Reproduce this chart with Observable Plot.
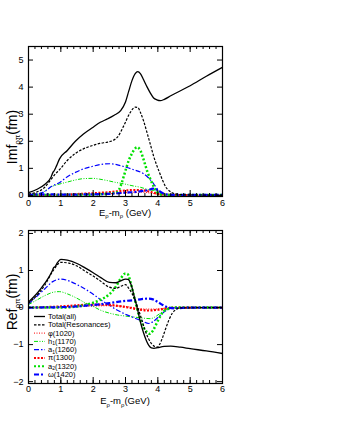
<!DOCTYPE html>
<html>
<head>
<meta charset="utf-8">
<script src="https://cdn.jsdelivr.net/npm/d3@7"></script>
<script src="https://cdn.jsdelivr.net/npm/@observablehq/plot@0.6"></script>
<style>
  html, body { margin: 0; padding: 0; background: #fff; }
  #wrap { position: relative; width: 340px; height: 440px; overflow: hidden; }
  #wrap svg { position: absolute; left: 0; }
</style>
</head>
<body>
<div id="wrap"></div>
<script>
// ---------- Data ----------
const seriesNames = ["Total(all)", "Total(Resonances)", "φ(1020)", "h1(1170)", "a1(1260)", "π(1300)", "a2(1320)", "ω(1420)"];

const xTicks = [0, 1, 2, 3, 4, 5, 6];
const imTicks = [0, 1, 2, 3, 4, 5];
const reTicks = [-2, -1, 0, 1, 2];

// Im f (top panel)
const imTotal = [[0,0.1],[0.25,0.22],[0.5,0.4],[0.7,0.68],[0.76,0.86],[0.8,0.92],[0.87,1.1],[0.96,1.35],[1.2,1.66],[1.45,2.0],[1.7,2.27],[2,2.52],[2.22,2.7],[2.45,2.83],[2.65,2.96],[2.85,3.13],[3.0,3.45],[3.1,3.85],[3.2,4.24],[3.3,4.5],[3.38,4.57],[3.46,4.5],[3.56,4.27],[3.67,4.0],[3.77,3.78],[3.87,3.6],[3.97,3.53],[4.08,3.5],[4.2,3.55],[4.4,3.68],[5,4.05],[5.5,4.4],[6,4.73]];
const imRes = [[0,0.05],[0.25,0.12],[0.5,0.3],[0.67,0.55],[0.8,0.75],[0.98,0.98],[1.2,1.29],[1.45,1.55],[1.7,1.72],[2,1.85],[2.2,1.92],[2.45,1.97],[2.6,2.02],[2.75,2.15],[2.95,2.58],[3.15,3.07],[3.3,3.26],[3.38,3.25],[3.46,3.07],[3.56,2.75],[3.67,2.3],[3.77,1.88],[3.87,1.45],[3.97,1.1],[4.05,0.85],[4.15,0.55],[4.24,0.32],[4.35,0.17],[4.5,0.07],[4.7,0.03],[5,0.02],[6,0.01]];
const imPhi = [[0,0.01],[1,0.01],[2,0.03],[2.5,0.06],[3,0.1],[3.5,0.12],[3.8,0.08],[4.1,0.03],[4.4,0.01],[6,0]];
const imH1 = [[0,0.02],[0.3,0.06],[0.5,0.15],[0.67,0.3],[0.9,0.4],[1.19,0.49],[1.45,0.57],[1.7,0.62],[2,0.63],[2.2,0.6],[2.43,0.55],[2.7,0.48],[2.94,0.43],[3.2,0.36],[3.46,0.3],[3.7,0.22],[3.87,0.18],[4.05,0.1],[4.18,0.06],[4.4,0.02],[6,0.01]];
const imA1 = [[0,0.02],[0.3,0.06],[0.5,0.14],[0.67,0.3],[0.98,0.49],[1.19,0.68],[1.45,0.85],[1.7,0.98],[2,1.08],[2.22,1.14],[2.53,1.17],[2.84,1.1],[3.05,1.03],[3.25,0.95],[3.56,0.8],[3.7,0.66],[3.87,0.43],[3.97,0.26],[4.08,0.12],[4.2,0.05],[4.4,0.02],[6,0.01]];
const imPi = [[0,0.01],[1,0.02],[1.5,0.05],[2,0.08],[2.5,0.12],[3,0.18],[3.3,0.2],[3.6,0.18],[3.8,0.12],[4,0.06],[4.2,0.02],[6,0.01]];
const imA2 = [[0,0.02],[1,0.02],[2,0.03],[2.4,0.06],[2.6,0.08],[2.74,0.12],[2.85,0.35],[2.94,0.68],[3.02,1.0],[3.1,1.29],[3.2,1.55],[3.3,1.74],[3.36,1.78],[3.46,1.66],[3.56,1.32],[3.67,0.9],[3.77,0.6],[3.87,0.33],[3.97,0.13],[4.05,0.05],[4.2,0.02],[6,0.02]];
const imOmega = [[0,0.02],[0.5,0.04],[1,0.03],[2,0.04],[2.5,0.06],[3,0.1],[3.4,0.14],[3.7,0.2],[3.85,0.25],[3.95,0.22],[4.1,0.12],[4.25,0.04],[4.5,0.02],[6,0.02]];

// Re f (bottom panel)
const reTotal = [[0,0.15],[0.15,0.28],[0.3,0.42],[0.5,0.65],[0.65,0.85],[0.74,1.0],[0.78,1.08],[0.82,1.1],[0.9,1.22],[1.0,1.3],[1.2,1.28],[1.5,1.19],[1.75,1.07],[2.0,0.94],[2.25,0.8],[2.5,0.68],[2.7,0.67],[2.85,0.72],[3.0,0.77],[3.08,0.76],[3.18,0.6],[3.27,0.3],[3.36,0.0],[3.45,-0.35],[3.55,-0.66],[3.65,-0.9],[3.72,-1.02],[3.8,-1.09],[3.88,-1.1],[4.0,-1.08],[4.2,-1.05],[4.4,-1.04],[4.7,-1.07],[5,-1.11],[5.5,-1.17],[6,-1.24]];
const reRes = [[0,0.12],[0.25,0.32],[0.5,0.6],[0.75,0.98],[1.0,1.22],[1.25,1.2],[1.5,1.12],[1.75,0.98],[2.0,0.85],[2.25,0.7],[2.5,0.55],[2.7,0.52],[2.9,0.59],[3.0,0.62],[3.1,0.52],[3.2,0.38],[3.3,0.18],[3.4,-0.05],[3.5,-0.32],[3.6,-0.6],[3.7,-0.82],[3.8,-0.97],[3.9,-1.05],[3.98,-1.07],[4.05,-1.0],[4.15,-0.8],[4.25,-0.55],[4.35,-0.32],[4.45,-0.15],[4.55,-0.06],[4.7,-0.01],[6,0]];
const rePhi = [[0,0],[1,0.01],[1.5,0.02],[2,0.04],[2.5,0.05],[3,0.03],[3.3,-0.01],[3.6,-0.04],[3.9,-0.04],[4.2,-0.02],[4.5,0],[6,0]];
const reH1 = [[0,0.08],[0.25,0.2],[0.5,0.32],[0.8,0.42],[0.95,0.43],[1.2,0.37],[1.5,0.25],[1.75,0.13],[2.0,0.03],[2.25,-0.08],[2.5,-0.15],[2.75,-0.2],[3.0,-0.23],[3.3,-0.26],[3.6,-0.29],[3.77,-0.3],[3.9,-0.26],[4.05,-0.17],[4.2,-0.08],[4.4,-0.01],[6,0]];
const reA1 = [[0,0.1],[0.25,0.3],[0.5,0.5],[0.75,0.7],[1.0,0.77],[1.25,0.72],[1.5,0.62],[1.75,0.5],[2.0,0.36],[2.25,0.2],[2.5,0.06],[2.75,-0.07],[3.0,-0.18],[3.25,-0.27],[3.5,-0.36],[3.72,-0.43],[3.85,-0.38],[4.0,-0.27],[4.15,-0.15],[4.3,-0.06],[4.5,-0.01],[6,0]];
const rePi = [[0,0],[1,0.03],[1.5,0.06],[2,0.08],[2.5,0.07],[2.8,0.04],[3.1,0.0],[3.4,-0.05],[3.7,-0.08],[4.0,-0.06],[4.3,-0.02],[4.6,0],[6,0]];
const reA2 = [[0,0],[1,0.0],[1.5,0.03],[1.8,0.08],[2.0,0.13],[2.2,0.2],[2.5,0.36],[2.7,0.56],[2.85,0.78],[3.0,0.92],[3.07,0.9],[3.15,0.7],[3.25,0.35],[3.35,0.0],[3.45,-0.3],[3.55,-0.52],[3.65,-0.65],[3.75,-0.71],[3.85,-0.62],[3.95,-0.45],[4.05,-0.27],[4.15,-0.13],[4.3,-0.04],[4.5,0],[6,0]];
const reOmega = [[0,0],[1,0.01],[1.5,0.03],[2,0.07],[2.5,0.12],[3.0,0.18],[3.3,0.2],[3.5,0.23],[3.7,0.24],[3.85,0.22],[4.0,0.15],[4.15,0.07],[4.3,0.01],[4.5,-0.02],[5,0],[6,0]];

// ---------- Styles ----------
const styles = [
  {stroke: "#000000", width: 1.3, dash: null},
  {stroke: "#000000", width: 1.2, dash: "2.5,1.5"},
  {stroke: "#ff0000", width: 1.0, dash: "1,1.5"},
  {stroke: "#00e000", width: 1.0, dash: "4,1.5,1,1.5,1,1.5"},
  {stroke: "#0000ff", width: 1.2, dash: "5,2,1.5,2"},
  {stroke: "#ff0000", width: 2.2, dash: "2,1.5"},
  {stroke: "#00e000", width: 2.5, dash: "2,2"},
  {stroke: "#0000ff", width: 2.2, dash: "5,2,2,2"}
];
const drawOrder = [2, 3, 4, 5, 6, 7, 1, 0];

const FONT = "'Liberation Sans', Arial, Helvetica, sans-serif";
const W = 240, ML = 28, MR = 18;

function panel(seriesData, yDomain, yTicks, height, marginTop, marginBottom, xPad) {
  const frameH = height - marginTop - marginBottom;
  const frameW = W - ML - MR;
  const xMinor = d3.range(0, 6.0001, 0.2);
  const lines = drawOrder.map(i => Plot.line(seriesData[i], {
    x: d => d[0], y: d => d[1], curve: "monotone-x",
    stroke: styles[i].stroke, strokeWidth: styles[i].width,
    strokeDasharray: styles[i].dash, strokeLinecap: "butt"
  }));
  return Plot.plot({
    width: W, height, marginLeft: ML, marginRight: MR, marginTop, marginBottom,
    style: {fontFamily: FONT, fontSize: "9px", color: "#000", background: "transparent"},
    x: {domain: [0, 6]},
    y: {domain: yDomain},
    marks: [
      ...lines,
      Plot.tickX(xMinor, {x: d => d, insetTop: frameH - 3, stroke: "#000"}),
      Plot.tickX(xMinor, {x: d => d, insetBottom: frameH - 3, stroke: "#000"}),
      Plot.tickX(xTicks, {x: d => d, insetTop: frameH - 6, stroke: "#000"}),
      Plot.tickX(xTicks, {x: d => d, insetBottom: frameH - 6, stroke: "#000"}),
      Plot.tickY(yTicks, {y: d => d, insetRight: frameW - 5, stroke: "#000"}),
      Plot.tickY(yTicks, {y: d => d, insetLeft: frameW - 5, stroke: "#000"}),
      Plot.frame({stroke: "#000", strokeWidth: 1.2}),
      Plot.axisX({ticks: xTicks, tickSize: 0, tickPadding: xPad, label: null, tickFormat: d3.format("d")}),
      Plot.axisY({ticks: yTicks, tickSize: 0, tickPadding: 5, label: null, tickFormat: d3.format("d")})
    ]
  });
}

function addYTitle(svg, main, x, y) {
  const t = d3.select(svg).append("text")
    .attr("transform", `translate(${x},${y}) rotate(-90)`)
    .attr("text-anchor", "middle")
    .style("font-family", FONT).style("font-size", "14px").attr("fill", "#000");
  t.append("tspan").text(main);
  t.append("tspan").attr("dy", 3).style("font-size", "8px").text("ρπ");
  t.append("tspan").attr("dy", -3).text("(fm)");
}
function addXTitle(svg, x, y, spaced) {
  const t = d3.select(svg).append("text")
    .attr("x", x).attr("y", y).attr("text-anchor", "middle")
    .style("font-family", FONT).style("font-size", "9.5px").attr("fill", "#000");
  t.append("tspan").text("E");
  t.append("tspan").attr("dy", 2.5).style("font-size", "6px").text("ρ");
  t.append("tspan").attr("dy", -2.5).text("-m");
  t.append("tspan").attr("dy", 2.5).style("font-size", "6px").text("ρ");
  t.append("tspan").attr("dy", -2.5).text(spaced ? " (GeV)" : "(GeV)");
}

const wrap = document.getElementById("wrap");

// Top panel
const topPanel = panel([imTotal, imRes, imPhi, imH1, imA1, imPi, imA2, imOmega], [-0.04, 5.5], imTicks, 220, 46, 24, 3);
topPanel.style.top = "0px";
wrap.appendChild(topPanel);
addYTitle(topPanel, "Imf", 17, 137);
addXTitle(topPanel, 125, 215.5, true);

// Bottom panel
const botPanel = panel([reTotal, reRes, rePhi, reH1, reA1, rePi, reA2, reOmega], [-2.05, 2.08], reTicks, 190, 10, 27, 2);
botPanel.style.top = "220px";
wrap.appendChild(botPanel);
addYTitle(botPanel, "Ref", 17, 82);
addXTitle(botPanel, 125, 184, false);

// Legend inside bottom panel
const lg = d3.select(botPanel).append("g")
  .attr("text-anchor", "start")
  .style("font-family", FONT).style("font-size", "7.5px");
seriesNames.forEach((name, i) => {
  const y = 96.5 + i * 8.3;
  const s = styles[i];
  lg.append("line").attr("x1", 34).attr("x2", 45).attr("y1", y).attr("y2", y)
    .attr("stroke", s.stroke).attr("stroke-width", Math.min(s.width, 2))
    .attr("stroke-dasharray", s.dash);
  const t = lg.append("text").attr("x", 48).attr("y", y).attr("dy", "0.32em")
    .attr("text-anchor", "start").attr("fill", "#000");
  const m = name.match(/^([a-z])(\d)(\(.*\))$/);
  if (m) {
    t.append("tspan").text(m[1]);
    t.append("tspan").attr("dy", 1.5).style("font-size", "5px").text(m[2]);
    t.append("tspan").attr("dy", -1.5).text(m[3]);
  } else {
    t.text(name);
  }
});
</script>
</body>
</html>
